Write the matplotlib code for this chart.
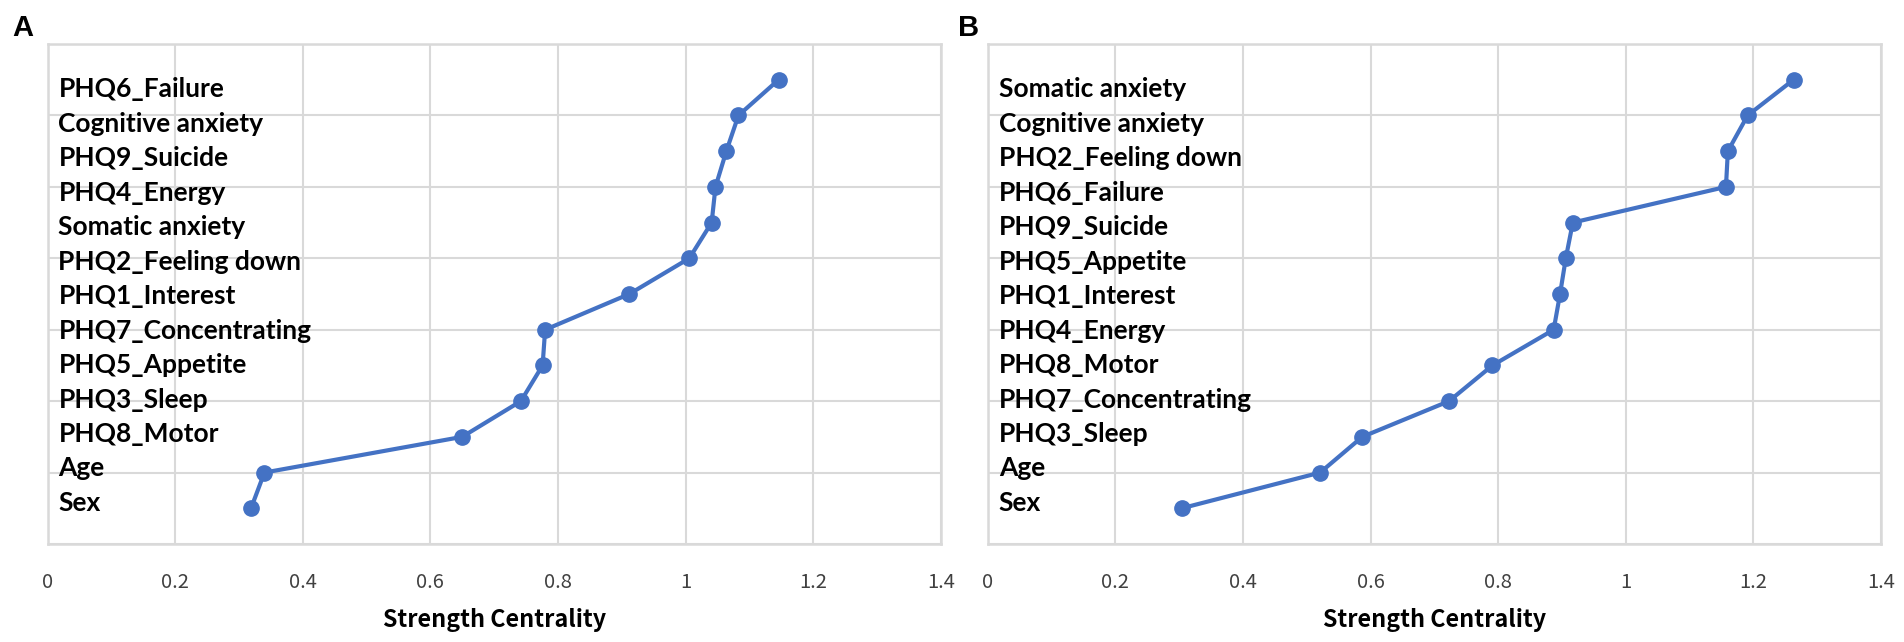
import matplotlib
matplotlib.use("Agg")
import matplotlib.pyplot as plt
import matplotlib.transforms as mtransforms

# ---------------- data ----------------
labels_a = ["Sex", "Age", "PHQ8_Motor", "PHQ3_Sleep", "PHQ5_Appetite",
            "PHQ7_Concentrating", "PHQ1_Interest", "PHQ2_Feeling down",
            "Somatic anxiety", "PHQ4_Energy", "PHQ9_Suicide",
            "Cognitive anxiety", "PHQ6_Failure"]
values_a = [0.319, 0.340, 0.650, 0.742, 0.776, 0.780, 0.912, 1.006,
            1.041, 1.047, 1.064, 1.083, 1.146]

labels_b = ["Sex", "Age", "PHQ3_Sleep", "PHQ7_Concentrating", "PHQ8_Motor",
            "PHQ4_Energy", "PHQ1_Interest", "PHQ5_Appetite", "PHQ9_Suicide",
            "PHQ6_Failure", "PHQ2_Feeling down", "Cognitive anxiety",
            "Somatic anxiety"]
values_b = [0.304, 0.521, 0.587, 0.723, 0.791, 0.887, 0.897, 0.906, 0.917,
            1.157, 1.160, 1.191, 1.263]

xticks = [0, 0.2, 0.4, 0.6, 0.8, 1.0, 1.2, 1.4]
xtick_labels = ["0", "0.2", "0.4", "0.6", "0.8", "1", "1.2", "1.4"]
panel_letters = ["A", "B"]
xlabel = "Strength Centrality"

# ---------------- layout ----------------
W, H = 1904, 642
fig = plt.figure(figsize=(W / 100, H / 100), dpi=100)
fig.patch.set_facecolor("white")

LINE = "#4472C4"
GRID = "#D9D9D9"
TICKC = "#404040"

panels = [
    (47.5, 940.7, labels_a, values_a, 12),
    (987.7, 1881.0, labels_b, values_b, 958),
]
top_px, bot_px = 44, 544

for (l, r, labs, vals, letter_x), letter in zip(panels, panel_letters):
    ax = fig.add_axes([l / W, (H - bot_px) / H, (r - l) / W, (bot_px - top_px) / H])
    ys = list(range(1, len(vals) + 1))
    ax.plot(vals, ys, color=LINE, lw=3, marker="o", ms=11, zorder=3,
            solid_joinstyle="round")
    ax.set_xlim(0, 1.4)
    ax.set_ylim(0, 14)
    ax.set_xticks(xticks)
    ax.set_xticklabels(xtick_labels, fontsize=14.5, color=TICKC,
                       family=["Noto Sans CJK KR", "DejaVu Sans"])
    ax.set_yticks(range(0, 15, 2))
    ax.set_yticklabels([])
    ax.tick_params(axis="both", length=0, pad=20)
    ax.grid(True, color=GRID, lw=1.5, zorder=0)
    for s in ax.spines.values():
        s.set_color(GRID)
        s.set_linewidth(1.8)

    # category labels written inside the plot area
    trans = mtransforms.blended_transform_factory(ax.transAxes, ax.transData)
    for k, lab in enumerate(labs):
        ax.text(11 / (r - l), 1.15 + 0.965 * k, lab, transform=trans,
                ha="left", va="center", fontsize=19, fontweight="bold",
                family=["Lato", "DejaVu Sans"], color="black", zorder=4)

    # x label
    fig.text((l + r) / 2 / W, (H - 620) / H, xlabel, ha="center", va="center",
             fontsize=16.8, fontweight="bold",
             family=["Noto Sans CJK KR", "DejaVu Sans"], color="black")
    # panel letter
    fig.text(letter_x / W, (H - 28) / H, letter, ha="left", va="center",
             fontsize=21, fontweight="bold",
             family=["Liberation Sans", "DejaVu Sans"], color="black")

fig.savefig("out.png", dpi=100, facecolor="white")
